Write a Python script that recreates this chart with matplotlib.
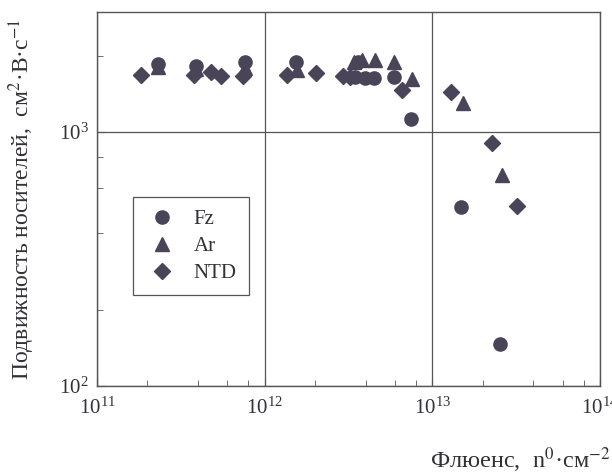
import matplotlib
matplotlib.use("Agg")
import matplotlib.pyplot as plt
from matplotlib.ticker import LogLocator, NullFormatter

plt.rcParams['font.family'] = ['Liberation Serif', 'DejaVu Serif']
plt.rcParams['mathtext.fontset'] = 'stix'

# Data
fz_x = [2.3e11, 3.9e11, 7.6e11, 1.53e12, 3.6e12, 3.45e12, 3.97e12, 4.5e12, 5.9e12, 7.45e12, 1.48e13, 2.52e13]
fz_y = [1850, 1815, 1890, 1890, 1880, 1650, 1630, 1630, 1650, 1130, 508, 146]

ar_x = [2.3e11, 3.9e11, 7.6e11, 1.55e12, 3.4e12, 3.8e12, 4.55e12, 5.9e12, 7.55e12, 1.52e13, 2.59e13]
ar_y = [1800, 1770, 1780, 1750, 1890, 1920, 1920, 1890, 1615, 1300, 678]

ntd_x = [1.84e11, 3.8e11, 4.8e11, 5.5e11, 7.45e11, 1.35e12, 2.02e12, 2.95e12, 3.25e12, 6.55e12, 1.29e13, 2.26e13, 3.21e13]
ntd_y = [1675, 1675, 1725, 1655, 1655, 1675, 1715, 1665, 1650, 1470, 1440, 903, 511]

labels = ['Fz', 'Ar', 'NTD']

mcol = '#4a4458'
tcol = '#333038'

fig = plt.figure(figsize=(6.12, 4.74), dpi=100)
ax = fig.add_axes([97/612, (474-386)/474, (600-97)/612, (386-12)/474])

ax.plot(ar_x, ar_y, linestyle='none', marker='^', ms=10, color=mcol, mec=mcol, label=labels[1], zorder=3)
ax.plot(ntd_x, ntd_y, linestyle='none', marker='D', ms=8, color=mcol, mec=mcol, label=labels[2], zorder=3)
ax.plot(fz_x, fz_y, linestyle='none', marker='o', ms=9.5, color=mcol, mec=mcol, label=labels[0], zorder=4)

ax.set_xscale('log')
ax.set_yscale('log')
ax.set_xlim(1e11, 1e14)
ax.set_ylim(1e2, 2970)

ax.xaxis.set_major_locator(LogLocator(base=10, numticks=10))
ax.xaxis.set_minor_locator(LogLocator(base=10, subs=[2, 4, 6, 8], numticks=10))
ax.yaxis.set_major_locator(LogLocator(base=10, numticks=10))
ax.yaxis.set_minor_locator(LogLocator(base=10, subs=[2, 4, 6, 8], numticks=10))
ax.xaxis.set_minor_formatter(NullFormatter())
ax.yaxis.set_minor_formatter(NullFormatter())

ax.grid(True, which='major', color='#555555', linewidth=0.9)
ax.set_axisbelow(True)
for s in ax.spines.values():
    s.set_color('#555555')
    s.set_linewidth(1.0)

ax.tick_params(which='both', direction='in', colors='#555555', labelcolor=tcol, labelsize=15)
ax.tick_params(which='major', length=6, pad=8)
ax.tick_params(which='minor', length=4)
ax.tick_params(axis='y', which='major', pad=6)

ax.set_ylabel('Подвижность носителей,  см$^{2}$·В·с$^{-1}$', fontsize=17, color=tcol, labelpad=16)
fig.text(611/612, (474-468)/474, 'Флюенс,  n$^{0}$·см$^{-2}$', fontsize=17.5, color=tcol, ha='right', va='baseline')

handles, labs = ax.get_legend_handles_labels()
order = [labs.index(l) for l in labels]
leg = ax.legend([handles[i] for i in order], [labs[i] for i in order],
                loc='upper left', bbox_to_anchor=((133-97)/503, 1 - (197-12)/374),
                fancybox=False, edgecolor='#555555', framealpha=1, fontsize=15,
                labelspacing=0.35, handletextpad=0.7, borderpad=0.6, handlelength=1.6,
                borderaxespad=0)
for t in leg.get_texts():
    t.set_color(tcol)
leg.get_frame().set_linewidth(0.9)

fig.savefig('out.png', dpi=100)
